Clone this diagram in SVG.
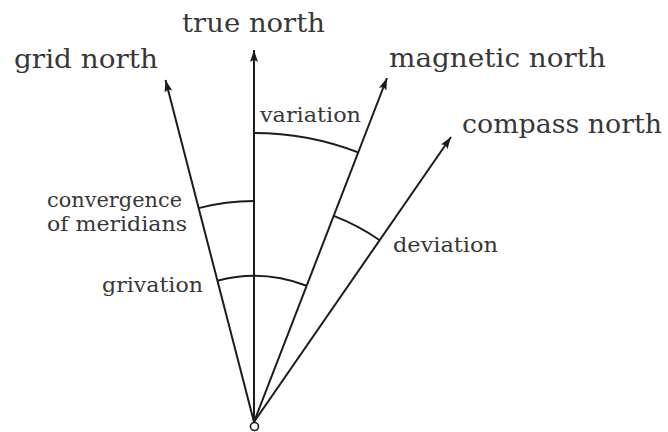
<svg xmlns="http://www.w3.org/2000/svg" width="668" height="432" viewBox="0 0 668 432">
<style>
.ray{stroke:#1c1c1c;stroke-width:2;fill:none;marker-end:url(#ah)}
.arc{stroke:#1c1c1c;stroke-width:2;fill:none}
.big{font-family:"DejaVu Serif","Liberation Serif",serif;font-size:26px;fill:#383838}
.sm{font-family:"DejaVu Serif","Liberation Serif",serif;font-size:21px;fill:#383838}
.cm{font-size:20.5px}
</style>
<defs>
<marker id="ah" markerUnits="userSpaceOnUse" markerWidth="14" markerHeight="10" viewBox="-12 -5 14 10" refX="0" refY="0" orient="auto" overflow="visible">
<path d="M0,0 L-12,-4 Q-8.5,0 -12,4 Z" fill="#1c1c1c"/>
</marker>
</defs>
<rect width="668" height="432" fill="#fff"/>
<g id="connectors">
<line class="ray" x1="254" y1="422" x2="254" y2="50"/>
<line class="ray" x1="254" y1="422" x2="165.5" y2="80"/>
<line class="ray" x1="254" y1="422" x2="387" y2="78"/>
<line class="ray" x1="254" y1="422" x2="451" y2="137"/>
<path class="arc" d="M254,133 A289,289 0 0 1 358.2,152.4"/>
<path class="arc" d="M198.6,208.1 A221,221 0 0 1 254,201"/>
<path class="arc" d="M217.4,280.7 A146,146 0 0 1 306.6,285.8"/>
<path class="arc" d="M333.7,215.9 A221,221 0 0 1 379.7,240.2"/>
</g>
<g id="origin"><circle cx="254.5" cy="426.5" r="4" fill="#fff" stroke="#1c1c1c" stroke-width="1.6"/></g>
<g id="true-north"><text class="big" x="182" y="32" textLength="143" lengthAdjust="spacingAndGlyphs">true north</text></g>
<g id="grid-north"><text class="big" x="14" y="68" textLength="144" lengthAdjust="spacingAndGlyphs">grid north</text></g>
<g id="magnetic-north"><text class="big" x="389" y="67" textLength="217" lengthAdjust="spacingAndGlyphs">magnetic north</text></g>
<g id="compass-north"><text class="big" x="462" y="133" textLength="200" lengthAdjust="spacingAndGlyphs">compass north</text></g>
<g id="variation"><text class="sm" x="260" y="122" textLength="101" lengthAdjust="spacingAndGlyphs">variation</text></g>
<g id="convergence"><text class="sm cm" x="47" y="207" textLength="135" lengthAdjust="spacingAndGlyphs">convergence</text><text class="sm cm" x="47" y="231" textLength="140" lengthAdjust="spacingAndGlyphs">of meridians</text></g>
<g id="grivation"><text class="sm" x="102" y="292" textLength="101" lengthAdjust="spacingAndGlyphs">grivation</text></g>
<g id="deviation"><text class="sm" x="393" y="252" textLength="105" lengthAdjust="spacingAndGlyphs">deviation</text></g>
</svg>
